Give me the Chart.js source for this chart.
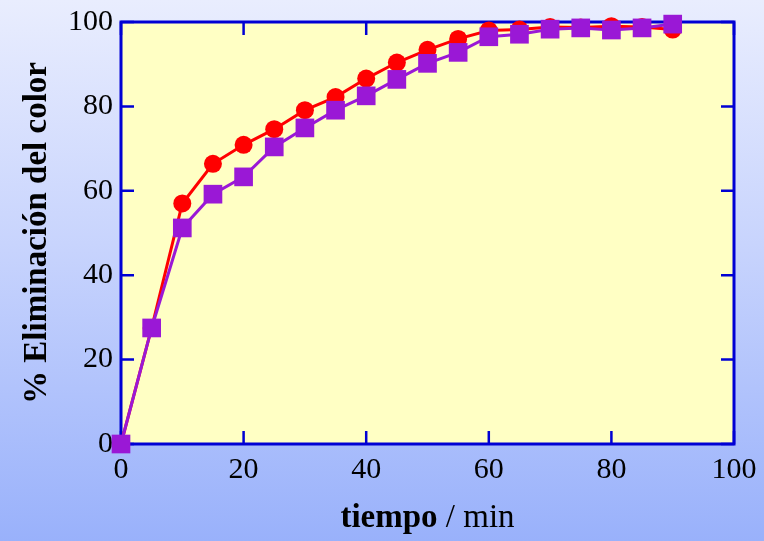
<!DOCTYPE html>
<html>
<head>
<meta charset="utf-8">
<script src="https://cdn.jsdelivr.net/npm/chart.js@4.4.0/dist/chart.umd.min.js"></script>
<style>
    html, body { margin: 0; padding: 0; }
    body
    {
        width: 764px; height: 541px; overflow: hidden;
        background: linear-gradient(to bottom, #e9edfe 0%, #c8d4fd 45%, #99b1fb 100%);
    }
    #wrap { position: relative; width: 764px; height: 541px; }
</style>
</head>
<body>
<div id="wrap"><canvas id="chart_canvas" width="764" height="541"></canvas></div>
<script>
/* data */
const tiempo   = [0, 5, 10, 15, 20, 25, 30, 35, 40, 45, 50, 55, 60, 65, 70, 75, 80, 85, 90];
const serie_rojo = [0, 27.5, 57, 66.4, 70.9, 74.6, 79.1, 82.2, 86.6, 90.4, 93.4, 96.0, 98.0, 98.2, 98.8, 98.7, 99.0, 98.8, 98.2];
const serie_lila = [0, 27.5, 51.2, 59.2, 63.3, 70.4, 74.9, 79.1, 82.5, 86.4, 90.2, 92.8, 96.5, 97.1, 98.3, 98.6, 98.1, 98.6, 99.5];
const x_ticks  = [0, 20, 40, 60, 80, 100];
const y_ticks  = [0, 20, 40, 60, 80, 100];

const x_title_bold = 'tiempo';
const x_title_rest = ' / min';
const y_title = '% Eliminación del color';

const serif = "'Liberation Serif', 'Times New Roman', serif";
const axis_blue = '#0000d4';

function points ( xs, ys )
{
    let pts = [];
    for ( let ii = 0; ii < xs.length; ++ii )
    {
        pts.push( { x: xs[ii], y: ys[ii] } );
    }
    return pts;
}

/* yellow plot area, blue frame with inward ticks, and the x title */
const frame =
{
    id: 'frame',
    beforeDatasetsDraw: function ( chart )
    {
        const { ctx, chartArea: a, scales } = chart;
        ctx.save();
        ctx.fillStyle = '#ffffc4';
        ctx.fillRect(a.left, a.top, a.right - a.left, a.bottom - a.top);

        ctx.strokeStyle = axis_blue;
        ctx.lineWidth = 2.5;
        const tl = 13;
        ctx.beginPath();
        for ( let v of x_ticks )
        {
            const px = scales.x.getPixelForValue(v);
            ctx.moveTo(px, a.bottom); ctx.lineTo(px, a.bottom - tl);
            ctx.moveTo(px, a.top);    ctx.lineTo(px, a.top + tl);
        }
        for ( let v of y_ticks )
        {
            const py = scales.y.getPixelForValue(v);
            ctx.moveTo(a.left, py);  ctx.lineTo(a.left + tl, py);
            ctx.moveTo(a.right, py); ctx.lineTo(a.right - tl, py);
        }
        ctx.stroke();

        ctx.lineWidth = 3;
        ctx.strokeRect(a.left, a.top, a.right - a.left, a.bottom - a.top);
        ctx.restore();
    },
    afterDraw: function ( chart )
    {
        const { ctx, chartArea: a } = chart;
        ctx.save();
        ctx.fillStyle = '#000';
        ctx.textBaseline = 'alphabetic';
        ctx.textAlign = 'left';
        const bold = 'bold 33px ' + serif;
        const plain = '33px ' + serif;
        ctx.font = bold;
        const w1 = ctx.measureText(x_title_bold).width;
        ctx.font = plain;
        const w2 = ctx.measureText(x_title_rest).width;
        const x0 = (a.left + a.right) / 2 - (w1 + w2) / 2;
        const y0 = 527;
        ctx.font = bold;
        ctx.fillText(x_title_bold, x0, y0);
        ctx.font = plain;
        ctx.fillText(x_title_rest, x0 + w1, y0);
        ctx.restore();
    }
};

const data =
{
    datasets:
    [
        {
            label: 'rojo',
            data: points(tiempo, serie_rojo),
            borderColor: '#ff0000',
            backgroundColor: '#ff0000',
            borderWidth: 3,
            pointStyle: 'circle',
            pointRadius: 9,
            pointBorderWidth: 0,
            showLine: true,
            clip: false,
            order: 1
        },
        {
            label: 'lila',
            data: points(tiempo, serie_lila),
            borderColor: '#9a18d6',
            backgroundColor: '#9a18d6',
            borderWidth: 3,
            pointStyle: 'rect',
            pointRadius: 13.2,
            pointBorderWidth: 0,
            showLine: true,
            clip: false,
            order: 0
        }
    ]
};

const tick_font = { family: serif, size: 30, lineHeight: 1 };

const options =
{
    responsive: false,
    animation: false,
    events: [],
    layout: { padding: { left: 0, top: 22, right: 30, bottom: 0 } },
    plugins:
    {
        legend: { display: false },
        tooltip: { enabled: false }
    },
    scales:
    {
        x:
        {
            type: 'linear', min: 0, max: 100,
            grid: { display: false, drawTicks: false },
            border: { display: false },
            afterBuildTicks: function ( s ) { s.ticks = x_ticks.map(v => ({ value: v })); },
            ticks: { color: '#000', font: tick_font, padding: 11, maxRotation: 0 },
            afterFit: function ( s ) { s.height = 97; s.paddingLeft = 0; s.paddingRight = 0; }
        },
        y:
        {
            type: 'linear', min: 0, max: 100,
            grid: { display: false, drawTicks: false },
            border: { display: false },
            afterBuildTicks: function ( s ) { s.ticks = y_ticks.map(v => ({ value: v })); },
            ticks: { color: '#000', font: tick_font, padding: 8 },
            title:
            {
                display: true,
                text: y_title,
                color: '#000',
                font: { family: serif, size: 33, weight: 'bold' },
                padding: { top: 18, bottom: 0 }
            },
            afterFit: function ( s ) { s.width = 121; s.paddingTop = 0; s.paddingBottom = 0; }
        }
    }
};

const config = { type: 'scatter', data: data, options: options, plugins: [frame] };
const chart = new Chart( document.getElementById('chart_canvas'), config );
</script>
</body>
</html>
